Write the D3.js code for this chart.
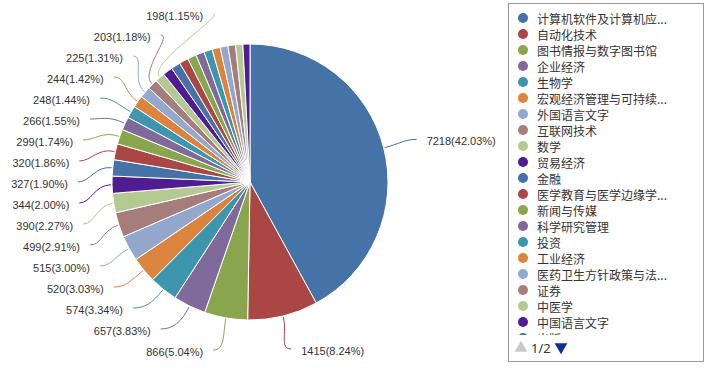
<!DOCTYPE html>
<html>
<head>
<meta charset="utf-8">
<script src="https://cdn.jsdelivr.net/npm/d3@7"></script>
<style>
    body { margin: 0; background: #fff; }
    svg { display: block; }
</style>
</head>
<body>
<div id="pie-chart"></div>
<script>
const width = 719, height = 369

// subject names (legend order == slice order)
const names = [
    "计算机软件及计算机应用", "自动化技术", "图书情报与数字图书馆", "企业经济", "生物学",
    "宏观经济管理与可持续发展", "外国语言文字", "互联网技术", "数学", "贸易经济",
    "金融", "医学教育与医学边缘学科", "新闻与传媒", "科学研究管理", "投资",
    "工业经济", "医药卫生方针政策与法律法规研究", "证券", "中医学", "中国语言文字",
    "出版", "高等教育", "临床医学", "物理学", "无线电电子学",
    "电信技术", "教育理论与教育管理", "化学", "心理学", "哲学"
]
const counts = [
    7218, 1415, 866, 657, 574, 520, 515, 499, 390, 344,
    327, 320, 299, 266, 248, 244, 225, 203, 198, 196,
    190, 183, 177, 171, 168, 163, 157, 152, 147, 141
]
const colors = ["#4572A7", "#AA4643", "#89A54E", "#80699B", "#3D96AE",
    "#DB843D", "#92A8CD", "#A47D7C", "#B5CA92", "#4F1D91"]
const shownLabels = 19   // the smaller slices have no label
const legendPage = "1/2"

const cx = 250, cy = 182, radius = 138, labelRadius = 172

const data = names.map((n, i) => ({ name: n, value: counts[i] }))
const total = d3.sum(counts)
const color = d3.scaleOrdinal().domain(names).range(colors)

const svg = d3.select("#pie-chart")
    .append("svg")
    .attr("width", width)
    .attr("height", height)

const pie = d3.pie().sort(null).value(d => d.value)
const arcs = pie(data)
const arc = d3.arc().innerRadius(0).outerRadius(radius)

const g = svg.append("g").attr("transform", `translate(${cx},${cy})`)

g.selectAll(".slice")
    .data(arcs)
    .enter().append("path")
    .attr("class", "slice")
    .attr("d", arc)
    .attr("fill", d => color(d.data.name))
    .attr("stroke", "#fff")
    .attr("stroke-width", 1)

// label layout: ideal spot on a bigger circle, then push apart vertically
const labels = arcs.slice(0, shownLabels).map(d => {
    const mid = (d.startAngle + d.endAngle) / 2
    return {
        d: d,
        mid: mid,
        left: Math.sin(mid) < 0,
        y: -labelRadius * Math.cos(mid)
    }
})

function spread(list, gap, maxY) {
    list.sort((a, b) => a.y - b.y)
    for (let i = 1; i < list.length; i++) {
        list[i].y = Math.max(list[i].y, list[i - 1].y + gap)
    }
    if (list.length && list[list.length - 1].y > maxY) {
        list[list.length - 1].y = maxY
        for (let i = list.length - 2; i >= 0; i--) {
            list[i].y = Math.min(list[i].y, list[i + 1].y - gap)
        }
    }
}
spread(labels.filter(l => l.left), 21, height - 19 - cy)
spread(labels.filter(l => !l.left), 21, height - 19 - cy)

labels.forEach(l => {
    const dy = l.y
    const dx = Math.sqrt(Math.max(labelRadius * labelRadius - dy * dy, 0))
    l.x = l.left ? -dx : dx
})

const linePath = l => {
    const p0 = [Math.sin(l.mid) * (radius + 1), -Math.cos(l.mid) * (radius + 1)]
    const c1 = [Math.sin(l.mid) * (radius + 18), -Math.cos(l.mid) * (radius + 18)]
    const c2 = [l.x + (l.left ? 12 : -12), l.y]
    const path = d3.path()
    path.moveTo(p0[0], p0[1])
    path.bezierCurveTo(c1[0], c1[1], c2[0], c2[1], l.x, l.y)
    return path.toString()
}

g.selectAll(".label-line")
    .data(labels)
    .enter().append("path")
    .attr("class", "label-line")
    .attr("d", linePath)
    .attr("fill", "none")
    .attr("stroke", l => color(l.d.data.name))
    .attr("stroke-width", 1)

g.selectAll(".label")
    .data(labels)
    .enter().append("text")
    .attr("class", "label")
    .attr("x", l => l.left ? l.x - 10 : l.x + 10)
    .attr("y", l => l.y + 2)
    .attr("dominant-baseline", "central")
    .attr("text-anchor", l => l.left ? "end" : "start")
    .attr("font-family", "'Liberation Sans', Arial, sans-serif")
    .attr("font-size", 11)
    .attr("fill", "#333")
    .text(l => `${l.d.data.value}(${(l.d.data.value / total * 100).toFixed(2)}%)`)

// legend, first page only
const legend = svg.append("g")
legend.append("rect")
    .attr("x", 508.5).attr("y", 3.5)
    .attr("width", 195).attr("height", 358)
    .attr("fill", "#fff")
    .attr("stroke", "#999")

svg.append("clipPath").attr("id", "legend-clip")
    .append("rect").attr("x", 509).attr("y", 4).attr("width", 194).attr("height", 331)

const shorten = s => s.length > 10 ? s.slice(0, 10) + "..." : s

const items = legend.append("g")
    .attr("clip-path", "url(#legend-clip)")
    .selectAll(".legend-item")
    .data(data.slice(0, 21))
    .enter().append("g")
    .attr("class", "legend-item")
    .attr("transform", (d, i) => `translate(523,${18 + i * 16})`)

items.append("circle")
    .attr("r", 5)
    .attr("fill", d => color(d.name))

items.append("text")
    .attr("x", 14)
    .attr("dominant-baseline", "central")
    .attr("font-family", "'Noto Sans CJK SC', sans-serif")
    .attr("font-size", 12)
    .attr("fill", "#333")
    .text(d => shorten(d.name))

// pager
const tri = d3.symbol().type(d3.symbolTriangle).size(70)
legend.append("path")
    .attr("d", tri)
    .attr("transform", "translate(521,348)")
    .attr("fill", "#c8c8c8")
legend.append("text")
    .attr("x", 531).attr("y", 348)
    .attr("dominant-baseline", "central")
    .attr("font-family", "'Noto Sans', sans-serif")
    .attr("font-size", 13)
    .attr("fill", "#333")
    .text(legendPage)
legend.append("path")
    .attr("d", tri)
    .attr("transform", "translate(561,347) rotate(180)")
    .attr("fill", "#102f94")
</script>
</body>
</html>
